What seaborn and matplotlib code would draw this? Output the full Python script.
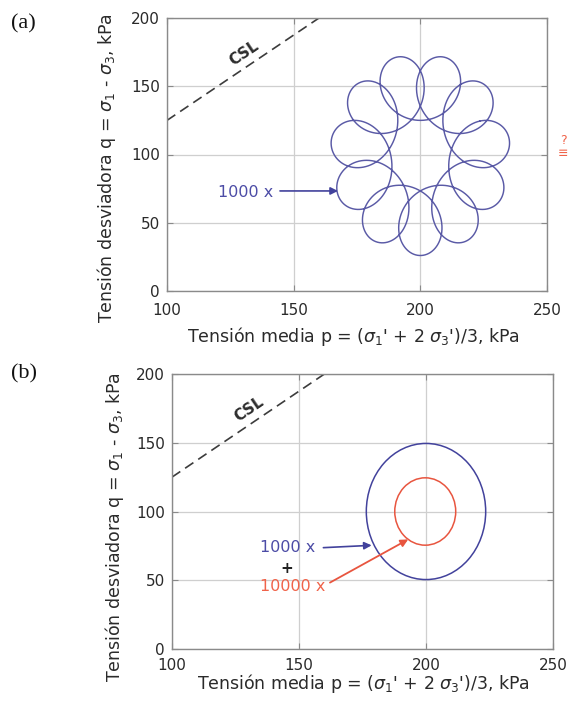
import numpy as np
import matplotlib
matplotlib.use("Agg")
import matplotlib.pyplot as plt
import seaborn as sns
from matplotlib.patches import Ellipse

# ---------------- data ----------------
x_ticks = [100, 150, 200, 250]
y_ticks = [0, 50, 100, 150, 200]

# critical state line (q = 1.25 p)
csl_p = [100, 160]
csl_q = [125, 200]

# stress-path ellipses:
# centre p, centre q, half-amplitude in p, half-amplitude in q
ell_1000 = [200.0, 100.0, 23.5, 49.5]   # 1000 x cycles (blue)
ell_10000 = [199.7, 100.0, 12.0, 24.5]  # 10000 x cycles (red)

# panel (a): the 1000x path with the 10000x cycles superposed
# (10 fast cycles per slow cycle, counter-rotating -> 11 loops)
cycles_ratio = 10
n_loops = 11

# ---------------- style ----------------
sns.set_theme(style="ticks")
plt.rcParams["font.family"] = ["DejaVu Sans"]
plt.rcParams["mathtext.fontset"] = "dejavusans"

BLUE_LOOP = "#5a5aa6"
BLUE = "#42429c"
BLUE_TXT = "#4c4ca6"
RED = "#e8553f"
RED_TXT = "#f0634a"
GRAY = "#8a8a8a"
TXT = "#2a2a2a"

fig = plt.figure(figsize=(5.68, 7.01), dpi=100)
fig.patch.set_facecolor("white")

ax_a = fig.add_axes([167 / 568, 1 - 291 / 701, 380 / 568, 273 / 701])
ax_b = fig.add_axes([172 / 568, 1 - 649 / 701, 381 / 568, 275 / 701])

xlabel = "Tensión media p = ($\\sigma_1$' + 2 $\\sigma_3$')/3, kPa"
ylabel = "Tensión desviadora q = $\\sigma_1$ - $\\sigma_3$, kPa"


def style_axes(ax, xlab_pos, ylab_pos, xpad):
    ax.set_xlim(x_ticks[0], x_ticks[-1])
    ax.set_ylim(y_ticks[0], y_ticks[-1])
    ax.set_xticks(x_ticks)
    ax.set_yticks(y_ticks)
    ax.grid(True, color="#cfcfcf", lw=0.9)
    ax.set_axisbelow(True)
    for s in ax.spines.values():
        s.set_visible(True)
        s.set_color(GRAY)
        s.set_linewidth(1.0)
    ax.tick_params(direction="in", length=4, width=0.8, color=GRAY,
                   top=True, right=True, labelsize=11, labelcolor=TXT)
    ax.tick_params(axis="x", pad=xpad)
    ax.tick_params(axis="y", pad=5)
    ax.set_xlabel(xlabel, fontsize=12.5, color=TXT)
    ax.set_ylabel(ylabel, fontsize=12.5, color=TXT)
    ax.xaxis.label.set_va("center")
    ax.yaxis.label.set_va("center")
    ax.xaxis.set_label_coords(*xlab_pos)
    ax.yaxis.set_label_coords(*ylab_pos)


def draw_csl(ax):
    sns.lineplot(x=csl_p, y=csl_q, ax=ax, color="#3c3c3c", lw=1.2,
                 linestyle=(0, (6, 3.5)))
    slope = (csl_q[1] - csl_q[0]) / (csl_p[1] - csl_p[0])
    ax.text(130.5, 174, "CSL", fontsize=11, fontweight="bold", color="#2e2e2e",
            rotation=np.degrees(np.arctan(slope)), transform_rotates_text=True,
            rotation_mode="anchor", ha="center", va="center")


# ---------------- (a) ----------------
style_axes(ax_a, (0.49, -0.165), (-0.158, 0.45), 8.5)
draw_csl(ax_a)
# superposition of the two read ellipses (slow 1000x + fast 10000x)
t = np.linspace(0, 2 * np.pi, 4000)
phase = np.pi / 2  # puts one loop at the bottom, as in the picture
path_p = (ell_1000[0] + ell_1000[2] * np.cos(t)
          + ell_10000[2] * np.cos(-cycles_ratio * t + phase))
path_q = (ell_1000[1] + ell_1000[3] * np.sin(t)
          + ell_10000[3] * np.sin(-cycles_ratio * t + phase))
sns.lineplot(x=path_p, y=path_q, ax=ax_a, sort=False, estimator=None,
             color=BLUE_LOOP, lw=1.05)
ax_a.text(131, 72, "1000 x", fontsize=11.5, color=BLUE_TXT, ha="center", va="center")
ax_a.annotate("", xy=(167.5, 73.3), xytext=(144.6, 73.3),
              arrowprops=dict(arrowstyle="-|>", color=BLUE, lw=1.2,
                              mutation_scale=11, shrinkA=0, shrinkB=0))

# ---------------- (b) ----------------
style_axes(ax_b, (0.503, -0.127), (-0.152, 0.444), 6.5)
draw_csl(ax_b)
for (ecx, ecy, ehx, ehy), col in [(ell_1000, BLUE), (ell_10000, RED)]:
    ax_b.add_patch(Ellipse((ecx, ecy), width=2 * ehx, height=2 * ehy,
                           fill=False, ec=col, lw=1.1))
ax_b.text(145.7, 74, "1000 x", fontsize=11.5, color=BLUE_TXT, ha="center", va="center")
ax_b.text(145.3, 58.5, "+", fontsize=11, color="#222222", ha="center", va="center",
          fontweight="bold")
ax_b.text(147.6, 45.6, "10000 x", fontsize=11.5, color=RED_TXT, ha="center", va="center")
ax_b.annotate("", xy=(178.6, 75.4), xytext=(159.6, 73.7),
              arrowprops=dict(arrowstyle="-|>", color=BLUE, lw=1.2,
                              mutation_scale=11, shrinkA=0, shrinkB=0))
ax_b.annotate("", xy=(193.0, 79.7), xytext=(162.2, 48.3),
              arrowprops=dict(arrowstyle="-|>", color=RED, lw=1.3,
                              mutation_scale=11, shrinkA=0, shrinkB=0))

# ---------------- panel letters and cropped marks ----------------
fig.text(23 / 568, 1 - 24 / 701, "(a)", fontsize=16, family="Liberation Serif",
         ha="center", va="center", color="#111111")
fig.text(24 / 568, 1 - 374 / 701, "(b)", fontsize=16, family="Liberation Serif",
         ha="center", va="center", color="#111111")
fig.text(563 / 568, 1 - 140 / 701, "?", fontsize=9, color=RED_TXT,
         ha="center", va="center")
fig.text(563 / 568, 1 - 153 / 701, "≡", fontsize=9, color=RED_TXT,
         ha="center", va="center")

fig.savefig("out.png", dpi=100, facecolor="white")
